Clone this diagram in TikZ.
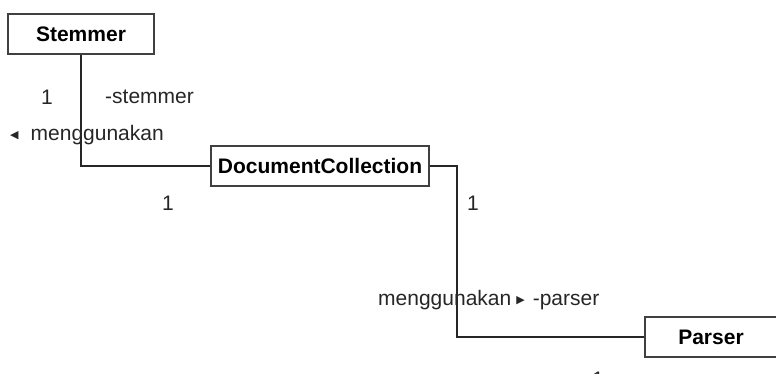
\documentclass[tikz,border=0pt]{standalone}
\usepackage{fontspec}
\setmainfont{Liberation Sans}
\newfontfamily\symfont{DejaVu Sans}
\usetikzlibrary{positioning}

\newcommand\triL{\raisebox{2pt}{\symfont\fontsize{11}{13}\selectfont ◀}}
\newcommand\triR{\raisebox{2pt}{\symfont\fontsize{11}{13}\selectfont ▶}}

\tikzset{
  classbox/.style={draw=black!75, line width=1.6pt, fill=white,
    font=\fontsize{21}{24}\selectfont\bfseries, inner sep=0pt,
    minimum height=40pt},
  assoc/.style={draw=black!85, line width=1.4pt},
  lbl/.style={font=\fontsize{21}{24}\selectfont, text=black!85, inner sep=0pt}
}

\begin{document}
\begin{tikzpicture}[x=1pt, y=-1pt]
  \useasboundingbox (0,0) rectangle (776,374);

  % --- classes ------------------------------------------------------
  \node[classbox, minimum width=146pt] (stemmer) at (81,34) {Stemmer};
  \node[classbox, minimum width=218pt] (doccoll) at (320,166) {DocumentCollection};
  \node[classbox, minimum width=132pt] (parser) at (711,337) {Parser};

  % --- associations -------------------------------------------------
  \draw[assoc] (stemmer.south) |- (doccoll.west);
  \coordinate (bend) at (457,166);
  \draw[assoc] (doccoll.east) -- (bend) |- (parser.west);

  % Stemmer end
  \node[lbl] (multS) at (47,97) {1};
  \node[lbl, anchor=west] (roleS) at (105,97) {-stemmer};
  \node[lbl, anchor=west] (useS) at (10,135) {\triL\hspace{12pt}menggunakan};
  \node[lbl] (multD1) at (168,203) {1};

  % Parser end
  \node[lbl] (multD2) at (473,203) {1};
  \node[lbl, anchor=west] (useP) at (378,300) {menggunakan\hspace{5pt}\triR\hspace{8pt}-parser};
  \node[lbl] (multP) at (598,379) {1};
\end{tikzpicture}
\end{document}
